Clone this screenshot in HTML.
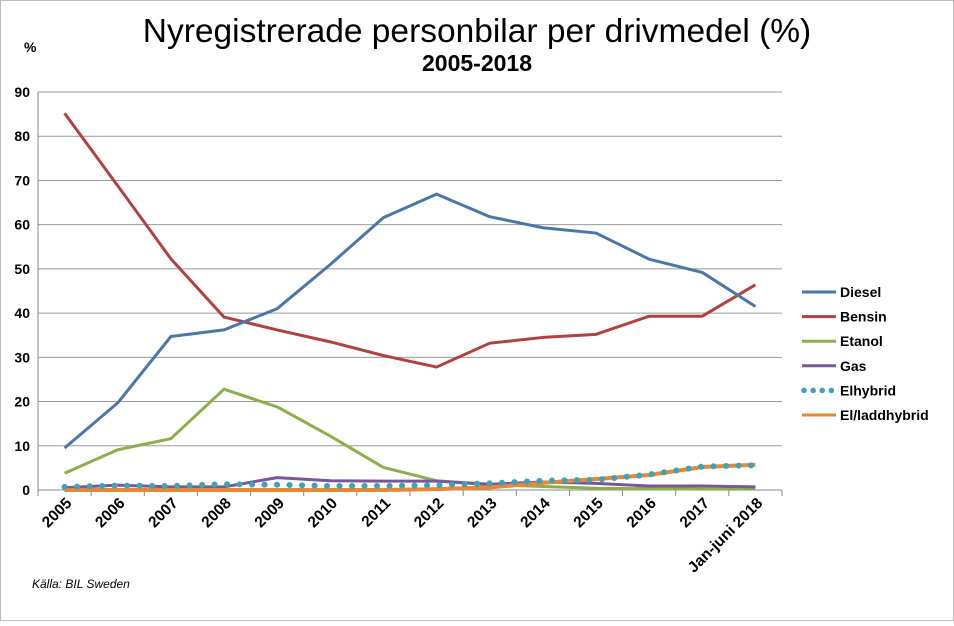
<!DOCTYPE html>
<html><head><meta charset="utf-8"><style>
body{margin:0;background:#fff;font-family:"Liberation Sans",sans-serif}
svg text{font-family:"Liberation Sans",sans-serif}
</style></head><body>
<svg width="954" height="621">
<rect x="0.5" y="0.5" width="953" height="620" fill="#fff" stroke="#bbb"/>
<text x="477" y="42" text-anchor="middle" font-size="33.5">Nyregistrerade personbilar per drivmedel (%)</text>
<text x="477" y="71" text-anchor="middle" font-size="23" font-weight="bold">2005-2018</text>
<text x="24" y="52" font-size="14" font-weight="bold">%</text>
<text x="32" y="588" font-size="12" font-style="italic">Källa: BIL Sweden</text>
<g id="grid"></g><g id="axes"></g><g id="series"></g><g id="legend"></g>
</svg>
<script>
const categories=["2005","2006","2007","2008","2009","2010","2011","2012","2013","2014","2015","2016","2017","Jan-juni 2018"];
const yTicks=[0,10,20,30,40,50,60,70,80,90];
const diesel=[9.5,19.7,34.7,36.2,41,51,61.6,66.9,61.8,59.3,58.1,52.2,49.2,41.5];
const bensin=[85.2,68.8,52.3,39.1,36.2,33.5,30.4,27.8,33.2,34.5,35.2,39.3,39.3,46.4];
const etanol=[3.8,9.1,11.6,22.8,18.8,12.2,5.1,2.1,1.2,0.8,0.4,0.3,0.2,0.2];
const gas=[0.5,1.1,0.7,0.7,2.8,2.1,2.0,2.0,1.3,1.8,1.5,0.9,0.9,0.7];
const elhybrid=[0.7,1.0,0.9,1.3,1.2,0.9,0.9,1.1,1.5,2.1,2.3,3.5,5.3,5.6];
const laddhybrid=[0,0,0,0,0,0,0,0.2,0.6,1.6,2.5,3.4,5.2,5.7];
const seriesNames=["Diesel","Bensin","Etanol","Gas","Elhybrid","El/laddhybrid"];
const NS="http://www.w3.org/2000/svg";
const L=38,R=782,T=92,B=490;
const step=(R-L)/categories.length;
const x=i=>L+step*(i+0.5);
const y=v=>B-(v/90)*(B-T);
function mk(t,a,p){const e=document.createElementNS(NS,t);for(const k in a)e.setAttribute(k,a[k]);p.appendChild(e);return e;}
const grid=document.getElementById('grid'),axes=document.getElementById('axes'),ser=document.getElementById('series'),leg=document.getElementById('legend');
yTicks.forEach(v=>{
 const g=mk('line',{x1:L,x2:R,y1:y(v),y2:y(v),stroke:v==0?'#888':'#999','stroke-width':1},grid);
 
 
 const t=mk('text',{x:L-8,y:y(v)+5,'text-anchor':'end','font-size':14,'font-weight':'bold'},axes);
 t.textContent=v;
 
 
});
const ya=mk('line',{x1:L,x2:L,y1:T,y2:B,stroke:'#888'},axes);


for(let i=0;i<=categories.length;i++){mk('line',{x1:L+step*i,x2:L+step*i,y1:B,y2:B+6,stroke:'#888'},axes);}
categories.forEach((c,i)=>{
 const t=mk('text',{x:x(i)+8,y:B+14,'text-anchor':'end','font-size':15.5,'font-weight':'bold',transform:`rotate(-45 ${x(i)+8} ${B+14})`},axes);
 t.textContent=c;
 
 
});
const colors=["#4a76a8","#b0413e","#8caf4a","#7a579a","#3fa3b8","#e88833"];
const data=[diesel,bensin,etanol,gas,elhybrid,laddhybrid];
const order=[2,3,5,4,1,0];
order.forEach(k=>{
 const d=data[k].map((v,i)=>(i?'L':'M')+x(i)+','+y(v)).join(' ');
 const attrs={d:d,fill:'none',stroke:colors[k],'stroke-width':k==5?4:3,'stroke-linejoin':'round'};
 if(k==4){attrs['stroke-dasharray']='0.1 12.4';attrs['stroke-linecap']='round';attrs['stroke-width']=6;}
 const p=mk('path',attrs,ser);
 
 
});
seriesNames.forEach((n,k)=>{
 const yy=292+k*24.6;
 const a={x1:802,x2:836,y1:yy,y2:yy,stroke:colors[k],'stroke-width':3};
 if(k==4){a['stroke-dasharray']='0.1 9';a['stroke-linecap']='round';a['stroke-width']=5.5;a.x1=804;}
 mk('line',a,leg);
 const t=mk('text',{x:840,y:yy+5,'font-size':14,'font-weight':'bold'},leg);
 t.textContent=n;
 
 
});
</script>
</body></html>
